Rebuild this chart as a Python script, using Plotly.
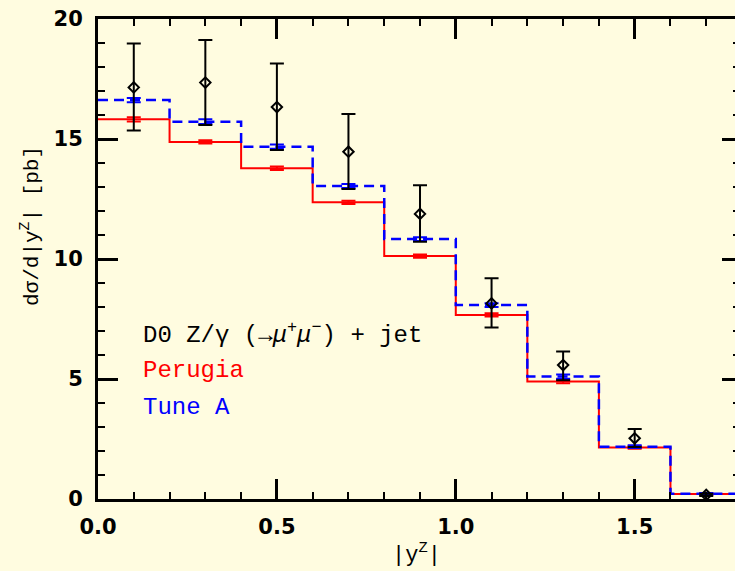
import plotly.graph_objects as go

# ---- data ----
bin_edges = [0.0, 0.2, 0.4, 0.6, 0.8, 1.0, 1.2, 1.4, 1.6, 1.8]
bin_centers = [0.1, 0.3, 0.5, 0.7, 0.9, 1.1, 1.3, 1.5, 1.7]
perugia = [15.82, 14.88, 13.78, 12.36, 10.12, 7.67, 4.90, 2.15, 0.21]
perugia_err = [0.09, 0.07, 0.07, 0.07, 0.07, 0.07, 0.08, 0.06, 0.03]
tunea = [16.62, 15.72, 14.68, 13.04, 10.83, 8.08, 5.10, 2.18, 0.22]
tunea_err = [0.09, 0.10, 0.09, 0.08, 0.08, 0.08, 0.09, 0.06, 0.03]
d0 = [17.15, 17.35, 16.33, 14.47, 11.88, 8.15, 5.58, 2.53, 0.17]
d0_up = [18.98, 19.13, 18.15, 16.04, 13.07, 9.20, 6.15, 2.92, 0.22]
d0_lo = [15.35, 15.58, 14.54, 12.92, 10.72, 7.15, 4.95, 2.17, 0.12]

x_ticks = [0.0, 0.5, 1.0, 1.5]
y_ticks = [0, 5, 10, 15, 20]

BG = "#FFFCE0"
XMAX = 1.7804

fig = go.Figure()

# step histograms
fig.add_trace(go.Scatter(x=bin_edges, y=perugia + [perugia[-1]], mode="lines",
                         line=dict(color="#FF0000", width=2, shape="hv"),
                         showlegend=False, hoverinfo="skip"))
fig.add_trace(go.Scatter(x=bin_edges, y=tunea + [tunea[-1]], mode="lines",
                         line=dict(color="#0000FF", width=2.5, shape="hv", dash="10px,6px"),
                         showlegend=False, hoverinfo="skip"))

# theory error bars
fig.add_trace(go.Scatter(x=bin_centers, y=perugia, mode="markers",
                         marker=dict(size=1, color="rgba(0,0,0,0)"),
                         error_y=dict(type="data", array=perugia_err, color="#FF0000",
                                      thickness=2, width=7),
                         showlegend=False, hoverinfo="skip"))
fig.add_trace(go.Scatter(x=bin_centers, y=tunea, mode="markers",
                         marker=dict(size=1, color="rgba(0,0,0,0)"),
                         error_y=dict(type="data", array=tunea_err, color="#0000FF",
                                      thickness=2, width=7),
                         showlegend=False, hoverinfo="skip"))

# data
fig.add_trace(go.Scatter(x=bin_centers, y=d0, mode="markers",
                         marker=dict(symbol="diamond-open", size=8, color="black",
                                     line=dict(color="black", width=2)),
                         error_y=dict(type="data", symmetric=False,
                                      array=[u - v for u, v in zip(d0_up, d0)],
                                      arrayminus=[v - l for v, l in zip(d0, d0_lo)],
                                      color="black", thickness=2, width=7),
                         showlegend=False, hoverinfo="skip"))

# dummy trace for right axis
fig.add_trace(go.Scatter(x=[], y=[], yaxis="y2", showlegend=False))

tickfont = dict(family="DejaVu Sans", size=21, color="black", weight="bold")

fig.update_layout(
    width=735, height=571,
    margin=dict(l=98, r=0, t=19, b=72),
    paper_bgcolor=BG, plot_bgcolor=BG,
    xaxis=dict(range=[0, XMAX], tickvals=x_ticks, tickformat=".1f",
               ticks="inside", ticklen=20, tickwidth=3, tickcolor="black",
               minor=dict(dtick=0.1, tick0=0, ticks="inside", ticklen=7, tickwidth=2, tickcolor="black"),
               showline=True, linewidth=3, linecolor="black", mirror="ticks",
               showgrid=False, zeroline=False, tickfont=tickfont, ticklabelstandoff=7),
    yaxis=dict(range=[0, 20], tickvals=y_ticks,
               ticks="inside", ticklen=20, tickwidth=3, tickcolor="black",
               minor=dict(dtick=1, tick0=0, ticks="inside", ticklen=7, tickwidth=2, tickcolor="black"),
               showline=True, linewidth=3, linecolor="black",
               showgrid=False, zeroline=False, tickfont=tickfont, ticklabelstandoff=8),
    yaxis2=dict(range=[0, 20], overlaying="y", side="right", tickvals=y_ticks,
                ticks="inside", ticklen=13, tickwidth=3, tickcolor="black",
                minor=dict(dtick=1, tick0=0, ticks="inside", ticklen=2, tickwidth=2, tickcolor="black"),
                showline=False, showgrid=False, zeroline=False, showticklabels=False),
    annotations=[
        dict(text="dσ/d|y<sup>Z</sup>| [pb]", textangle=-90, xref="paper", yref="paper",
             x=(30 - 98) / 637, y=(499 - 226) / 480, xanchor="center", yanchor="middle",
             showarrow=False, font=dict(family="Liberation Mono", size=21, color="black")),
        dict(text="|y<sup>Z</sup>|", xref="paper", yref="paper",
             x=0.5, y=(499 - 553) / 480, xanchor="center", yanchor="middle",
             showarrow=False, font=dict(family="Liberation Mono", size=22, color="black")),
        dict(text="D0 Z/γ (→<i>μ</i><sup>+</sup><i>μ</i><sup>−</sup>) + jet", xref="x", yref="y",
             x=(141 - 98) / 357.8, y=(499 - 333) / 24, xanchor="left", yanchor="middle",
             showarrow=False, font=dict(family="Liberation Mono", size=24, color="black")),
        dict(text="Perugia", xref="x", yref="y",
             x=(141 - 98) / 357.8, y=(499 - 370) / 24, xanchor="left", yanchor="middle",
             showarrow=False, font=dict(family="Liberation Mono", size=24, color="#FF0000")),
        dict(text="Tune A", xref="x", yref="y",
             x=(141 - 98) / 357.8, y=(499 - 407) / 24, xanchor="left", yanchor="middle",
             showarrow=False, font=dict(family="Liberation Mono", size=24, color="#0000FF")),
    ],
)

fig.write_html("out.html")
